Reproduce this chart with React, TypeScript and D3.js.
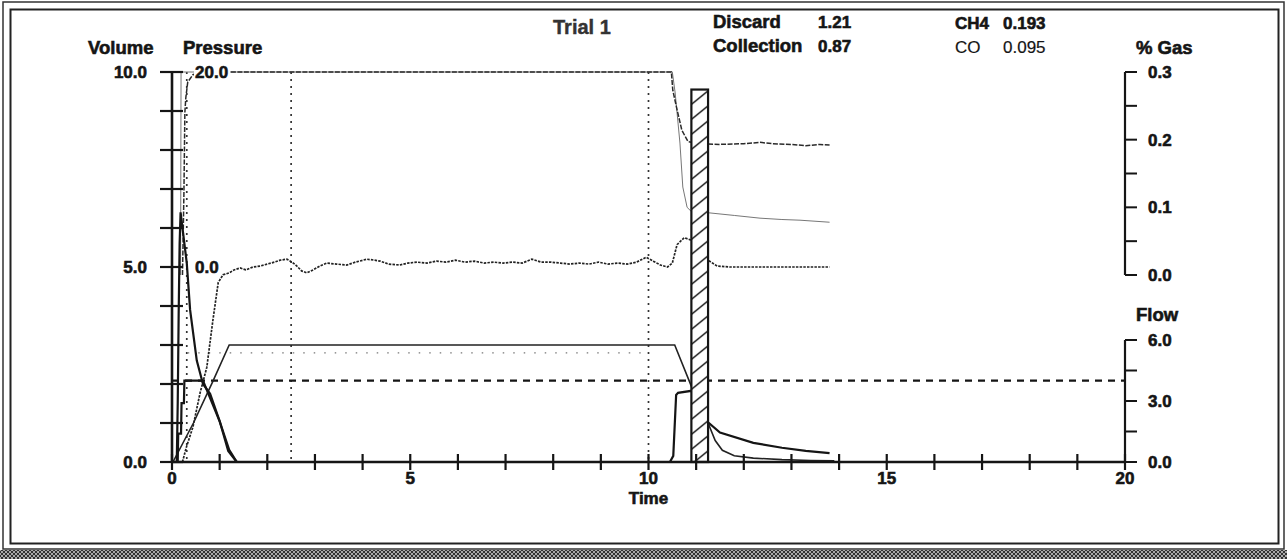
import React from "react";
import * as d3 from "d3";

// ---------- data ----------
const timeLabels = [0, 5, 10, 15, 20];
const volumeLabels = [0, 5, 10];
const pressureLabels = [0, 20];
const gasLabels = [0, 0.1, 0.2, 0.3];
const gasTicks = [0, 0.05, 0.1, 0.15, 0.2, 0.25, 0.3];
const flowLabels = [0, 3, 6];
const flowTicks = [0, 1.5, 3, 4.5, 6];

const headerLeft = [
  { label: "Discard", value: "1.21" },
  { label: "Collection", value: "0.87" },
];
const headerRight = [
  { label: "CH4", value: "0.193" },
  { label: "CO", value: "0.095" },
];

// event markers (time)
const markerTimes = [0.31, 2.5, 10.0];
// flow threshold
const flowThreshold = 4.0;
// collection bar: start, end, volume
const barStart = 10.9;
const barEnd = 11.25;
const barTop = 9.55;

// % gas, CH4 (display clipped at 0.3)
const ch4: [number, number][] = [
  [0.22, 0], [0.25, 0.12], [0.27, 0.24], [0.29, 0.262], [0.33, 0.285], [0.44, 0.296], [0.6, 0.3],
  [10.48, 0.3], [10.51, 0.273], [10.6, 0.244], [10.7, 0.214], [10.83, 0.197], [11.08, 0.194],
  [11.5, 0.193], [12.0, 0.194], [12.34, 0.196], [12.6, 0.194], [13.0, 0.193], [13.3, 0.191],
  [13.6, 0.193], [13.8, 0.192],
];
// % gas, CO
const co: [number, number][] = [
  [0.18, 0], [0.19, 0.3], [10.5, 0.3], [10.56, 0.269], [10.66, 0.195], [10.72, 0.13],
  [10.81, 0.1], [10.91, 0.093], [11.25, 0.092], [11.8, 0.088], [12.34, 0.084], [12.8, 0.082],
  [13.18, 0.081], [13.8, 0.078],
];
// pressure
const pressure: [number, number][] = [
  [0.22, -20], [0.3, -18.5], [0.44, -16.4], [0.59, -12.9], [0.73, -10.3], [0.86, -5.4], [0.97, -1.6],
  [1.07, -0.8], [1.2, -0.6], [1.3, -0.3], [1.43, -0.1], [1.55, -0.3], [1.7, 0.0], [1.85, 0.1],
  [2.0, 0.3], [2.15, 0.5], [2.27, 0.7], [2.41, 0.8], [2.52, 0.5], [2.62, 0.1], [2.72, -0.4],
  [2.83, -0.6], [2.96, -0.3], [3.1, 0.1], [3.25, 0.4], [3.45, 0.3], [3.67, 0.2], [3.85, 0.5],
  [4.09, 0.8], [4.25, 0.7], [4.37, 0.6], [4.55, 0.3], [4.78, 0.2], [4.95, 0.4], [5.14, 0.5],
  [5.35, 0.4], [5.55, 0.6], [5.75, 0.5], [5.95, 0.7], [6.15, 0.5], [6.35, 0.6], [6.55, 0.4],
  [6.75, 0.5], [6.95, 0.4], [7.15, 0.5], [7.35, 0.4], [7.55, 0.8], [7.75, 0.5], [7.95, 0.5],
  [8.15, 0.4], [8.35, 0.3], [8.55, 0.4], [8.75, 0.3], [8.95, 0.5], [9.15, 0.3], [9.35, 0.4],
  [9.55, 0.3], [9.75, 0.5], [9.95, 1.0], [10.1, 0.6], [10.25, 0.2], [10.4, 0.0], [10.5, 0.4],
  [10.6, 2.3], [10.75, 3.0], [10.87, 2.8], [11.0, 2.2], [11.08, 1.6], [11.25, 0.7], [11.44, 0.1],
  [11.7, 0.0], [12.5, 0.0], [13.8, 0.0],
];
// volume (ramp / plateau / decay)
const volume: [number, number][] = [
  [0.02, 0], [0.45, 1.0], [0.85, 2.05], [1.2, 3.0], [10.55, 3.0], [10.93, 1.85], [11.1, 1.45],
  [11.25, 1.0], [11.4, 0.55], [11.55, 0.3], [11.8, 0.16], [12.2, 0.1], [12.8, 0.06], [13.4, 0.04],
  [13.9, 0.03],
];
// volume spike
const spike: [number, number][] = [
  [0.1, 0], [0.12, 1.5], [0.14, 3.8], [0.16, 5.6], [0.18, 6.4], [0.22, 6.0], [0.27, 5.5],
  [0.31, 5.1], [0.38, 3.9], [0.52, 2.6], [0.65, 2.0], [0.8, 1.75], [1.0, 1.05], [1.18, 0.28],
  [1.36, 0],
];
// flow
const flow: [number, number][] = [
  [0, 0], [0.12, 0], [0.13, 1.4], [0.19, 1.4], [0.2, 2.9], [0.25, 2.9], [0.26, 4.0], [0.65, 4.0],
  [1.0, 2.0], [1.2, 0.6], [1.36, 0], [10.45, 0], [10.52, 0.3], [10.58, 3.3], [10.62, 3.4],
  [10.9, 3.5], [11.0, 2.9], [11.25, 1.95], [11.5, 1.45], [12.2, 0.94], [12.8, 0.7], [13.3, 0.55],
  [13.8, 0.44],
];
// reference (dotted) volume level
const reference: [number, number][] = [[0.33, 2.8], [10.0, 2.8]];

// ---------- chart ----------
const W = 1287;
const H = 559;
const FONT = "'Liberation Sans', Arial, sans-serif";
const INK = "#151515";

export default function App() {
  const x = d3.scaleLinear().domain([0, 20]).range([172, 1125]);
  const yVol = d3.scaleLinear().domain([0, 10]).range([462, 72]);
  const yPres = d3.scaleLinear().domain([-20, 20]).range([462, 72]);
  const yGas = d3.scaleLinear().domain([0, 0.3]).range([275, 72]);
  const yFlow = d3.scaleLinear().domain([0, 6]).range([462, 340]);

  const mk = (ys: d3.ScaleLinear<number, number>) =>
    d3.line<[number, number]>().x((d) => x(d[0])).y((d) => ys(d[1]));

  const lineVol = mk(yVol);
  const linePres = mk(yPres);
  const lineGas = mk(yGas);
  const lineFlow = mk(yFlow);

  const bold = { fontFamily: FONT, fontWeight: 700, fontSize: 17, fill: INK, stroke: INK, strokeWidth: 0.6 } as const;
  const word = { ...bold, fontSize: 18.5 } as const;

  const xAxisY = yVol(0);
  const rightX = x(20);

  return (
    <svg
      width={W}
      height={H}
      style={{ position: "fixed", left: 0, top: 0, display: "block", background: "#fff" }}
    >
      <defs>
        <pattern id="cross" width="4" height="4" patternUnits="userSpaceOnUse">
          <rect width="4" height="4" fill="#aaa" />
          <path d="M0,0 L4,4 M4,0 L0,4" stroke="#333" strokeWidth="1" />
        </pattern>
        <pattern id="hatch" width="17" height="15" patternUnits="userSpaceOnUse" x={x(barStart)} y={0}>
          <rect width="17" height="15" fill="#fff" />
          <path d="M-2,16 L19,-1" stroke={INK} strokeWidth="1.5" />
        </pattern>
      </defs>

      {/* frames */}
      <rect x={0} y={0} width={W} height={H} fill="#fff" />
      <rect x={3} y={2} width={1281} height={547} fill="none" stroke="#333" strokeWidth={1.5} />
      <rect x={10.5} y={9.5} width={1268} height={534} fill="none" stroke="#222" strokeWidth={2} />
      <rect x={0} y={550} width={W} height={9} fill="url(#cross)" />

      {/* header */}
      <text x={553} y={34} {...word} fontSize={20} fill="#333" stroke="#333" strokeWidth={0.4}>Trial 1</text>
      {headerLeft.map((h, i) => (
        <g key={h.label}>
          <text x={713} y={28 + i * 24} {...word}>{h.label}</text>
          <text x={818} y={28 + i * 24} {...bold}>{h.value}</text>
        </g>
      ))}
      {headerRight.map((h, i) => (
        <g key={h.label}>
          <text x={955} y={29 + i * 24} {...bold} fontWeight={i === 0 ? 700 : 400} strokeWidth={i === 0 ? 0.6 : 0.2}>{h.label}</text>
          <text x={1003} y={29 + i * 24} {...bold} fontWeight={i === 0 ? 700 : 400} strokeWidth={i === 0 ? 0.6 : 0.2}>{h.value}</text>
        </g>
      ))}

      {/* axis titles */}
      <text x={88} y={54} {...word}>Volume</text>
      <text x={183} y={54} {...word}>Pressure</text>
      <text x={1136} y={54} {...word}>% Gas</text>
      <text x={1136} y={321} {...word}>Flow</text>
      <text x={x(10)} y={504} {...bold} textAnchor="middle">Time</text>

      {/* event markers */}
      {markerTimes.map((t) => (
        <line key={t} x1={x(t)} x2={x(t)} y1={yVol(10)} y2={xAxisY} stroke="#333" strokeWidth={1.7} strokeDasharray="2,5" />
      ))}

      {/* reference dotted level */}
      <path d={lineVol(reference) || ""} fill="none" stroke="#777" strokeWidth={1.3} strokeDasharray="1.5,9" />

      {/* threshold */}
      <line x1={x(0)} x2={rightX} y1={yFlow(flowThreshold)} y2={yFlow(flowThreshold)} stroke={INK} strokeWidth={2.2} strokeDasharray="7,6" />

      {/* series */}
      <path d={lineGas(co) || ""} fill="none" stroke="#777" strokeWidth={1} />
      <path d={lineGas(ch4) || ""} fill="none" stroke="#2a2a2a" strokeWidth={1.5} strokeDasharray="5,1.5" />
      <path d={linePres(pressure) || ""} fill="none" stroke="#222" strokeWidth={1.7} strokeDasharray="2.5,1.2" />
      <path d={lineVol(volume) || ""} fill="none" stroke="#222" strokeWidth={1.6} />
      <path d={lineVol(spike) || ""} fill="none" stroke={INK} strokeWidth={2.2} />
      <path d={lineFlow(flow) || ""} fill="none" stroke={INK} strokeWidth={2.2} />

      {/* collection bar */}
      <rect
        x={x(barStart)}
        y={yVol(barTop)}
        width={x(barEnd) - x(barStart)}
        height={yVol(0) - yVol(barTop)}
        fill="url(#hatch)"
        stroke={INK}
        strokeWidth={2.2}
      />

      {/* x axis */}
      <line x1={x(0)} x2={rightX} y1={xAxisY} y2={xAxisY} stroke={INK} strokeWidth={2.6} />
      {x.ticks(20).map((t) => (
        <line key={t} x1={x(t)} x2={x(t)} y1={xAxisY - 8} y2={xAxisY + 8} stroke={INK} strokeWidth={2.2} />
      ))}
      {timeLabels.map((t) => (
        <text key={t} x={x(t)} y={484} {...bold} textAnchor="middle">{t}</text>
      ))}

      {/* volume axis */}
      <line x1={x(0)} x2={x(0)} y1={yVol(10)} y2={yVol(0)} stroke={INK} strokeWidth={2.6} />
      {yVol.ticks(10).map((v) => (
        <line key={v} x1={x(0) - 12} x2={x(0) + 11} y1={yVol(v)} y2={yVol(v)} stroke={INK} strokeWidth={2.2} />
      ))}
      {volumeLabels.map((v) => (
        <text key={v} x={147} y={yVol(v) + 6} {...bold} textAnchor="end">{v.toFixed(1)}</text>
      ))}

      {/* pressure labels */}
      {pressureLabels.map((p) => (
        <g key={p}>
          <rect x={194} y={yPres(p) - 9} width={p === 20 ? 36 : 27} height={18} fill="#fff" />
          <text x={195} y={yPres(p) + 6} {...bold}>{p.toFixed(1)}</text>
        </g>
      ))}

      {/* gas axis */}
      <line x1={rightX} x2={rightX} y1={yGas(0.3)} y2={yGas(0)} stroke={INK} strokeWidth={2.2} />
      {gasTicks.map((g) => (
        <line key={g} x1={rightX} x2={rightX + 12} y1={yGas(g)} y2={yGas(g)} stroke={INK} strokeWidth={2} />
      ))}
      {gasLabels.map((g) => (
        <text key={g} x={1148} y={yGas(g) + 6} {...bold}>{g.toFixed(1)}</text>
      ))}

      {/* flow axis */}
      <line x1={rightX} x2={rightX} y1={yFlow(6)} y2={yFlow(0)} stroke={INK} strokeWidth={2.2} />
      {flowTicks.map((f) => (
        <line key={f} x1={rightX} x2={rightX + 12} y1={yFlow(f)} y2={yFlow(f)} stroke={INK} strokeWidth={2} />
      ))}
      {flowLabels.map((f) => (
        <text key={f} x={1148} y={yFlow(f) + 6} {...bold}>{f.toFixed(1)}</text>
      ))}
    </svg>
  );
}
